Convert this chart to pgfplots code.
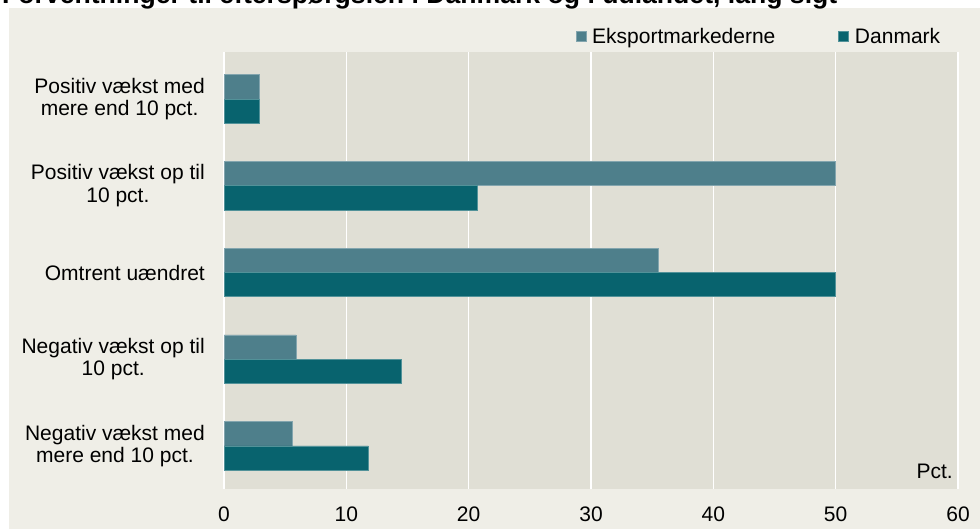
\documentclass[border=0pt]{standalone}
\usepackage{fontspec}
\setmainfont{Liberation Sans}
\usepackage{pgfplots}
\usepackage{pgfplotstable}
\pgfplotsset{compat=1.18}
\definecolor{figbg}{HTML}{EFEEE7}
\definecolor{plotbg}{HTML}{E0DFD5}
\definecolor{eks}{HTML}{4E7F8B}
\definecolor{dk}{HTML}{08636E}
\newcommand\lab{\fontsize{21bp}{22.5bp}\selectfont}

% y: 4 = top category, 0 = bottom category
\pgfplotstableread{
y eks dk
4 2.9 2.9
3 50.0 20.7
2 35.5 50.0
1 5.9 14.5
0 5.6 11.8
}\datatab

\begin{document}
\begin{tikzpicture}
\useasboundingbox (0,0) rectangle (980bp,-529bp);
\fill[white] (0,0) rectangle (980bp,-529bp);
\fill[figbg] (9bp,-8bp) rectangle (980bp,-529bp);
\node[anchor=base west, inner sep=0pt, font=\fontsize{26.6bp}{30bp}\selectfont\bfseries]
  at (2bp,-3bp) {Forventninger til efterspørgslen i Danmark og i udlandet, lang sigt};
\begin{axis}[
  at={(224bp,-489bp)}, anchor=south west,
  width=734bp, height=437bp, scale only axis,
  xbar, bar width=0.28,
  xmin=0, xmax=60, ymin=-0.496, ymax=4.542,
  xtick={0,10,...,60}, ytick={0,1,2,3,4},
  yticklabels={{Negativ vækst med\\mere end 10 pct.},{Negativ vækst op til\\10 pct.},
    {Omtrent uændret},{Positiv vækst op til\\10 pct.},{Positiv vækst med\\mere end 10 pct.}},
  axis line style={draw=none}, major tick length=0pt,
  xmajorgrids, grid style={white, line width=1.6bp},
  axis background/.style={fill=plotbg},
  /pgf/number format/assume math mode=true,
  ticklabel style={font=\lab},
  yticklabel style={align=center, anchor=east, inner sep=0pt, xshift=-19bp},
  xticklabel style={anchor=north, inner sep=0pt, yshift=-18bp},
  legend columns=2,
  legend style={draw=none, fill=none, font=\lab,
    at={(axis description cs:0.976,1.0355)}, anchor=east,
    inner sep=0pt, nodes={inner sep=0pt},
    /tikz/column 1/.style={column sep=6bp},
    /tikz/column 2/.style={column sep=63bp},
    /tikz/column 3/.style={column sep=6bp}},
  legend image code/.code={\fill[#1] (0bp,-5bp) rectangle (10bp,5bp);},
]
\addplot[fill=eks, draw=eks!70!white, line width=0.6bp, bar shift=0.14]
  table[x=eks, y=y] {\datatab};
\addlegendentry{Eksportmarkederne}
\addplot[fill=dk, draw=dk!70!white, line width=0.6bp, bar shift=-0.14]
  table[x=dk, y=y] {\datatab};
\addlegendentry{Danmark}
\end{axis}
\node[anchor=base east, inner sep=0pt, font=\lab] at (953bp,-478.3bp) {Pct.};
\end{tikzpicture}
\end{document}
